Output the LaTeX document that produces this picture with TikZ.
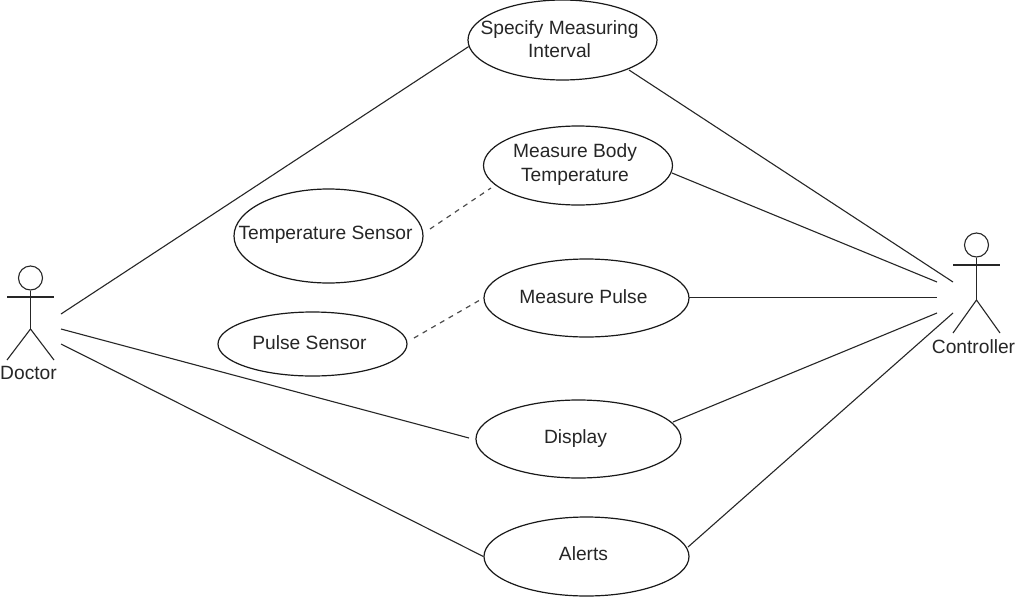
\documentclass[tikz,border=0pt]{standalone}
\usepackage{fontspec}
\setmainfont{Liberation Sans}
\usetikzlibrary{shapes.geometric}
\tikzset{
  usecase/.style={draw=black!90,ellipse,line width=1.2pt,inner sep=0pt},
  uctext/.style={align=center,font=\fontsize{19.2}{23.5}\selectfont,text=black!85,inner sep=0pt,xshift=-3pt,yshift=1pt},
  link/.style={draw=black!85,line width=1.1pt},
  deplink/.style={draw=black!70,dash pattern=on 5pt off 5pt,line width=1.2pt},
  figure/.style={draw=black!85,line width=1.1pt},
  actorname/.style={font=\fontsize{19.2}{21}\selectfont,text=black!85,inner sep=0pt},
}
\begin{document}
\begin{tikzpicture}[x=1pt,y=-1pt]
\useasboundingbox (0,0) rectangle (1021,600);
\fill[white] (0,0) rectangle (1021,600);
% use cases
\node[usecase,minimum width=189pt,minimum height=80pt,label={[uctext]center:Specify Measuring\\Interval}] (spec) at (562.5,40) {};
\node[usecase,minimum width=189pt,minimum height=79pt,label={[uctext]center:Measure Body\\Temperature}] (body) at (578,165.5) {};
\node[usecase,minimum width=189pt,minimum height=94pt,label={[uctext]center:Temperature Sensor}] (temp) at (328.5,236) {};
\node[usecase,minimum width=205pt,minimum height=78pt,label={[uctext]center:Measure Pulse}] (pulse) at (586.5,298) {};
\node[usecase,minimum width=189pt,minimum height=64pt,label={[uctext]center:Pulse Sensor}] (psens) at (312.5,344) {};
\node[usecase,minimum width=205pt,minimum height=78pt,label={[uctext,yshift=-1pt]center:Display}] (disp) at (578.5,439) {};
\node[usecase,minimum width=205pt,minimum height=79pt,label={[uctext,yshift=2pt]center:Alerts}] (alerts) at (586.5,556.5) {};
% doctor
\node[circle,figure,minimum size=24pt,inner sep=0pt] (dhead) at (30.5,278) {};
\coordinate (dhip) at (30.5,329);
\coordinate (darmL) at (7,297);
\coordinate (darmR) at (54,297);
\coordinate (dfootL) at (7,360);
\coordinate (dfootR) at (54,360);
\draw[figure] (dhead.south) -- (dhip);
\draw[figure] (darmL) -- (darmR);
\draw[figure] (dfootL) -- (dhip) -- (dfootR);
\node[actorname] (doctor) at (28.5,372.5) {Doctor};
% controller
\node[circle,figure,minimum size=24pt,inner sep=0pt] (chead) at (976.5,245) {};
\coordinate (chip) at (976.5,300);
\coordinate (carmL) at (953,265);
\coordinate (carmR) at (1000,265);
\coordinate (cfootL) at (953,333);
\coordinate (cfootR) at (1000,333);
\draw[figure] (chead.south) -- (chip);
\draw[figure] (carmL) -- (carmR);
\draw[figure] (cfootL) -- (chip) -- (cfootR);
\node[actorname] (controller) at (973.5,347) {Controller};
% free ends beside the actors
\coordinate (d1) at (61,314);
\coordinate (d2) at (61,329);
\coordinate (d3) at (61,344);
\coordinate (c1) at (953,282);
\coordinate (c2) at (937,282);
\coordinate (c3) at (937,297.4);
\coordinate (c4) at (937,313);
\coordinate (c5) at (953,313);
% connectors
\draw[link] (d1) -- (spec.184);
\draw[link] (d2) -- ([shift={(-109.5,-1)}]disp.center);
\draw[link] (d3) -- (alerts.west);
\draw[link] ([shift={(66.5,30)}]spec.center) -- (c1);
\draw[link] ([shift={(94,7.5)}]body.center) -- (c2);
\draw[link] ([shift={(102.5,-0.6)}]pulse.center) -- (c3);
\draw[link] ([shift={(94.5,-17)}]disp.center) -- (c4);
\draw[link] ([shift={(101.5,-9.5)}]alerts.center) -- (c5);
\draw[deplink] ([shift={(101.5,-7)}]temp.center) -- ([shift={(-87,22.5)}]body.center);
\draw[deplink] ([shift={(101.5,-6)}]psens.center) -- (pulse.west);
\end{tikzpicture}
\end{document}
